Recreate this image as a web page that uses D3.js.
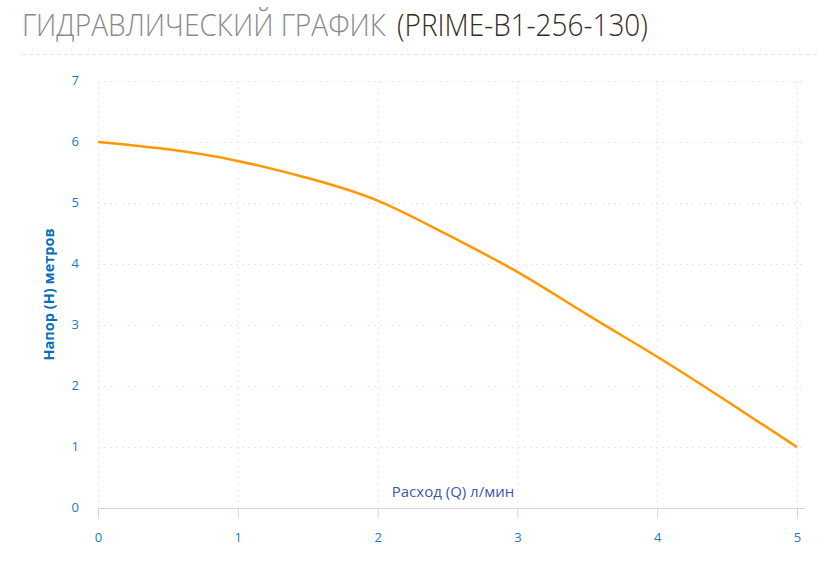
<!DOCTYPE html>
<html>
<head>
<meta charset="utf-8">
<script src="https://cdn.jsdelivr.net/npm/d3@7"></script>
<style>
  body { margin: 0; background: #fff; }
  svg { display: block; font-family: "Open Sans", sans-serif; }
</style>
</head>
<body>
<svg id="chart" width="831" height="587"></svg>
<script>
// Data
const flow = [0, 0.5, 1, 1.5, 2, 2.5, 3, 3.5, 4, 4.5, 5];
const head = [6.0, 5.88, 5.69, 5.41, 5.04, 4.48, 3.87, 3.17, 2.48, 1.75, 1.0];
const xTicks = [0, 1, 2, 3, 4, 5];
const yTicks = [0, 1, 2, 3, 4, 5, 6, 7];

const svg = d3.select("#chart");
const margin = { left: 98, right: 34, top: 81, bottom: 79 };
const width = 831, height = 587;

const x = d3.scaleLinear().domain([0, 5]).range([margin.left, width - margin.right]);
const y = d3.scaleLinear().domain([0, 7]).range([height - margin.bottom, margin.top]);

// Title, two parts in two colours; squeezed horizontally to a condensed look
function titlePart(str, left, w, colour) {
    const t = svg.append("text")
        .attr("font-size", 32)
        .attr("font-weight", 300)
        .attr("fill", colour)
        .text(str);
    const natural = t.node().getComputedTextLength();
    t.attr("transform", `translate(${left},36) scale(${w / natural},1)`);
}
titlePart("ГИДРАВЛИЧЕСКИЙ ГРАФИК", 22, 364, "#8a8a8a");
titlePart("(PRIME-B1-256-130)", 397, 251, "#3b2a1c");

// Divider
svg.append("line")
    .attr("x1", 22).attr("x2", 817)
    .attr("y1", 54.5).attr("y2", 54.5)
    .attr("stroke", "#e2e2e2")
    .attr("stroke-dasharray", "4,3");

// Grid
const grid = svg.append("g").attr("stroke", "#e6e6e6").attr("stroke-dasharray", "2,4");
grid.selectAll("line.h")
    .data(yTicks.filter(d => d > 0))
    .join("line")
        .attr("class", "h")
        .attr("x1", x(0)).attr("x2", x(5) + 8)
        .attr("y1", d => y(d) + 0.5).attr("y2", d => y(d) + 0.5);
grid.selectAll("line.v")
    .data(xTicks)
    .join("line")
        .attr("class", "v")
        .attr("x1", d => x(d) + 0.5).attr("x2", d => x(d) + 0.5)
        .attr("y1", y(7)).attr("y2", y(0));

// X axis
const xAxis = svg.append("g")
    .attr("transform", `translate(0,${y(0) + 0.5})`)
    .call(d3.axisBottom(x).tickValues(xTicks).tickFormat(d3.format("d"))
        .tickSize(10).tickPadding(14).tickSizeOuter(0));
xAxis.select(".domain").remove();
xAxis.append("line")
    .attr("x1", x(0)).attr("x2", x(5) + 8)
    .attr("stroke", "#ccd6eb");
xAxis.selectAll(".tick line").attr("stroke", "#ccd6eb");
xAxis.selectAll(".tick text")
    .attr("fill", "#1b7ac4")
    .attr("font-size", 13)
    .attr("font-family", "Open Sans, sans-serif");

// Y axis
const yAxis = svg.append("g")
    .attr("transform", `translate(${x(0)},0)`)
    .call(d3.axisLeft(y).tickValues(yTicks).tickFormat(d3.format("d"))
        .tickSize(0).tickPadding(19));
yAxis.select(".domain").remove();
yAxis.selectAll(".tick text")
    .attr("fill", "#1b7ac4")
    .attr("font-size", 13)
    .attr("dy", "0.25em")
    .attr("font-family", "Open Sans, sans-serif");

// Axis titles
svg.append("text")
    .attr("x", 453)
    .attr("y", 497)
    .attr("text-anchor", "middle")
    .attr("fill", "#3a5aa8")
    .attr("font-size", 15)
    .text("Расход (Q) л/мин");

svg.append("text")
    .attr("transform", `translate(54,${(y(7) + y(0)) / 2}) rotate(-90)`)
    .attr("text-anchor", "middle")
    .attr("fill", "#0a6fb8")
    .attr("font-size", 14.5)
    .attr("font-weight", 700)
    .text("Напор (Н) метров");

// Curve
const line = d3.line()
    .x((d, i) => x(flow[i]))
    .y(d => y(d))
    .curve(d3.curveNatural);

svg.append("path")
    .datum(head)
    .attr("fill", "none")
    .attr("stroke", "#ff9800")
    .attr("stroke-width", 2.5)
    .attr("stroke-linejoin", "round")
    .attr("d", line);
</script>
</body>
</html>
